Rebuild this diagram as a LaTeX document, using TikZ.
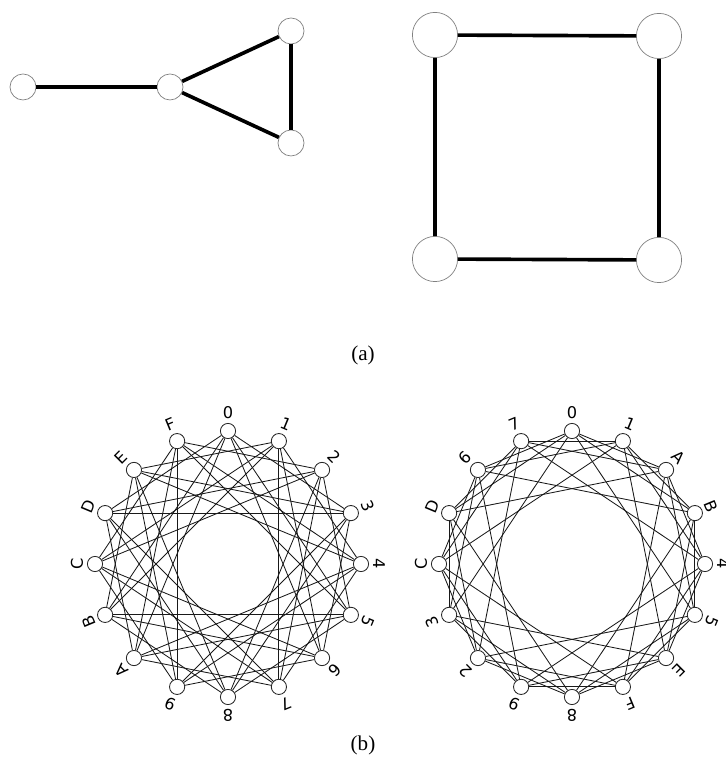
\documentclass[tikz,border=0pt]{standalone}
\usepackage{fontspec}
\setmainfont{Liberation Serif}
\setsansfont{DejaVu Sans}
\begin{document}
\begin{tikzpicture}[x=0.025cm, y=0.025cm,
    vertex/.style={circle, draw=gray, fill=white, inner sep=0pt, line width=0.5pt},
    smallvertex/.style={vertex, minimum size=0.65cm},
    bigvertex/.style={vertex, minimum size=1.13cm},
    hexnode/.style={circle, draw=black!85, fill=white, inner sep=0pt, minimum size=0.38cm, line width=0.6pt},
    hexlabel/.style={font=\sffamily\fontsize{11.5}{12}\selectfont, inner sep=0pt},
    thickedge/.style={line width=2.6pt},
    thinedge/.style={line width=0.6pt, black!90}]
    \useasboundingbox (0,0) rectangle (725,760);

    % (a) triangle with a pendant vertex
    \node[smallvertex] (pend) at (23,673) {};
    \node[smallvertex] (hub) at (170,673) {};
    \node[smallvertex] (upper) at (291,729) {};
    \node[smallvertex] (lower) at (291,617) {};
    \draw[thickedge] (pend) -- (hub);
    \draw[thickedge] (hub) -- (upper);
    \draw[thickedge] (upper) -- (lower);
    \draw[thickedge] (lower) -- (hub);

    % (a) four-cycle
    \node[bigvertex] (nw) at (435,725) {};
    \node[bigvertex] (ne) at (659,724) {};
    \node[bigvertex] (sw) at (435,501) {};
    \node[bigvertex] (se) at (659,500) {};
    \draw[thickedge] (nw) -- (ne);
    \draw[thickedge] (ne) -- (se);
    \draw[thickedge] (se) -- (sw);
    \draw[thickedge] (sw) -- (nw);

    \node[font=\fontsize{15}{16}\selectfont] (capa) at (363,405) {(a)};

    % (b) left drawing, vertices in order 0..F
    \begin{scope}[shift={(228,196)}]
        \foreach \lab [count=\i from 0] in {0,1,2,3,4,5,6,7,8,9,A,B,C,D,E,F} {
            \node[hexnode] (l\i) at (90-22.5*\i:133) {};
            \node[hexlabel, rotate={-22.5*\i}] (ltxt\i) at (90-22.5*\i:151) {\lab};
        }
        \foreach \i in {0,...,15}
            \foreach \k in {3,5,6} {
                \pgfmathtruncatemacro\j{mod(\i+\k,16)}
                \draw[thinedge] (l\i) -- (l\j);
            }
    \end{scope}

    % (b) right drawing, same graph relabelled
    \begin{scope}[shift={(572,196)}]
        \foreach \lab [count=\i from 0] in {0,1,A,B,4,5,E,F,8,9,2,3,C,D,6,7} {
            \node[hexnode] (r\i) at (90-22.5*\i:133) {};
            \node[hexlabel, rotate={-22.5*\i}] (rtxt\i) at (90-22.5*\i:151) {\lab};
        }
        \foreach \i in {0,...,15}
            \foreach \k in {2,3,5} {
                \pgfmathtruncatemacro\j{mod(\i+\k,16)}
                \draw[thinedge] (r\i) -- (r\j);
            }
    \end{scope}

    \node[font=\fontsize{15}{16}\selectfont] (capb) at (363,15) {(b)};
\end{tikzpicture}
\end{document}
